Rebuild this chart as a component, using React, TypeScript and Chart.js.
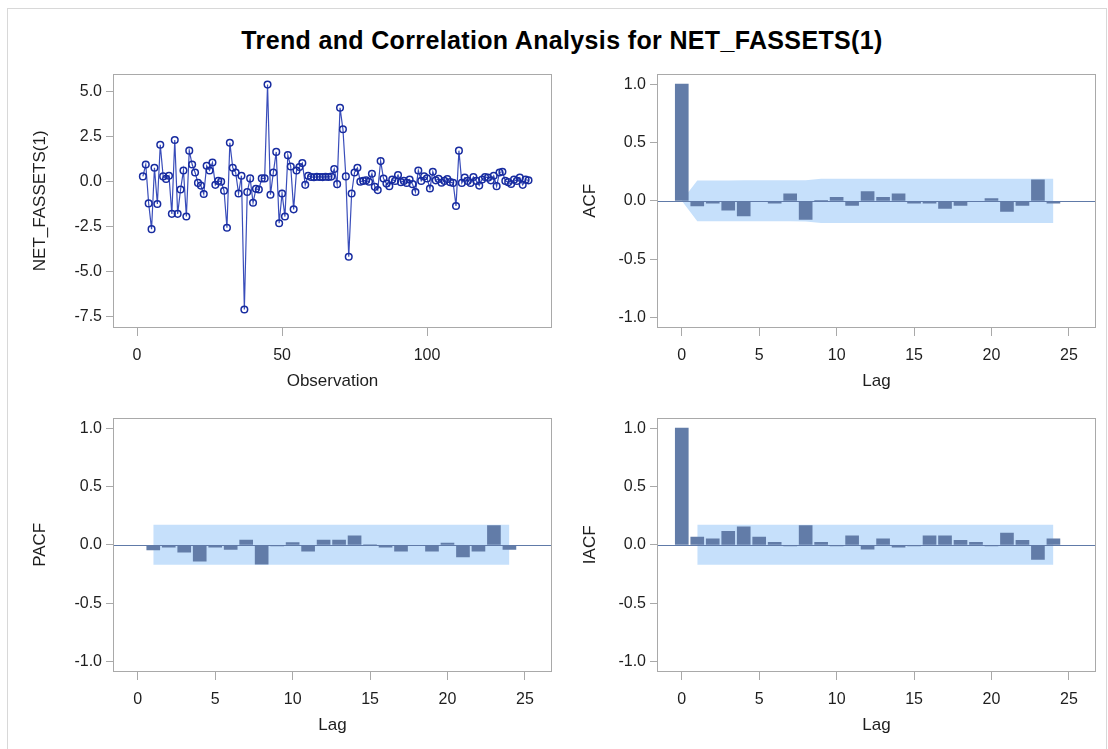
import React, { useEffect, useRef } from "react";
import { Chart, registerables } from "chart.js";

Chart.register(...registerables);

const FONT = "'Liberation Sans', Arial, Helvetica, sans-serif";
Chart.defaults.font.family = FONT;

// ---------------- Data ----------------
const chartTitle = "Trend and Correlation Analysis for NET_FASSETS(1)";
const seriesLabel = "NET_FASSETS(1)";
const firstObservation = 2;
const seriesValues = [
  0.27, 0.93, -1.23, -2.66, 0.75, -1.26, 2.03, 0.27, 0.13, 0.31,
  -1.81, 2.29, -1.81, -0.46, 0.6, -1.96, 1.7, 0.93, 0.49, -0.09,
  -0.24, -0.71, 0.86, 0.6, 1.04, -0.2, 0.02, -0.02, -0.53, -2.58,
  2.14, 0.75, 0.49, -0.68, 0.31, -7.12, -0.6, 0.16, -1.19, -0.42,
  -0.46, 0.16, 0.16, 5.37, -0.75, 0.49, 1.63, -2.33, -0.68, -1.96,
  1.45, 0.82, -1.56, 0.6, 0.79, 1.01, -0.2, 0.31, 0.24, 0.22,
  0.25, 0.24, 0.23, 0.25, 0.24, 0.26, 0.68, -0.16, 4.08, 2.89,
  0.27, -4.19, -0.68, 0.49, 0.75, -0.02, 0.02, 0.05, -0.03, 0.42,
  -0.31, -0.49, 1.12, 0.15, -0.13, -0.27, 0.1, 0.02, 0.35, -0.05,
  0.02, -0.09, 0.1, -0.16, -0.6, 0.6, 0.02, 0.27, 0.16, -0.4,
  0.53, 0.05, 0.13, -0.08, 0.02, 0.12, -0.05, -0.09, -1.37, 1.7,
  -0.09, 0.2, 0.02, -0.1, 0.24, 0.02, -0.24, 0.1, 0.24, 0.2,
  0.05, 0.31, -0.27, 0.49, 0.53, 0.02, -0.05, -0.15, 0.09, 0.02,
  0.2, -0.2, 0.09, 0.05,
];

const lags = [0, 1, 2, 3, 4, 5, 6, 7, 8, 9, 10, 11, 12, 13, 14, 15, 16, 17, 18, 19, 20, 21, 22, 23, 24];
const lagsFromOne = [1, 2, 3, 4, 5, 6, 7, 8, 9, 10, 11, 12, 13, 14, 15, 16, 17, 18, 19, 20, 21, 22, 23, 24];

const acfValues = [
  1.0, -0.043, -0.02, -0.08, -0.13, -0.005, -0.02, 0.06, -0.16, 0.005,
  0.03, -0.04, 0.08, 0.03, 0.06, -0.02, -0.02, -0.066, -0.04, -0.005,
  0.02, -0.09, -0.04, 0.18, -0.02,
];
const acfBandUpper = [
  0, 0.175, 0.175, 0.175, 0.176, 0.176, 0.176, 0.176, 0.177, 0.19,
  0.19, 0.19, 0.19, 0.19, 0.19, 0.19, 0.19, 0.19, 0.19, 0.19,
  0.19, 0.19, 0.19, 0.19, 0.19,
];
const acfBandLower = [
  0, -0.175, -0.175, -0.175, -0.176, -0.176, -0.176, -0.176, -0.177, -0.19,
  -0.19, -0.19, -0.19, -0.19, -0.19, -0.19, -0.19, -0.19, -0.19, -0.19,
  -0.19, -0.19, -0.19, -0.19, -0.19,
];

const pacfValues = [
  -0.043, -0.02, -0.063, -0.14, -0.02, -0.04, 0.04, -0.165, -0.01, 0.02,
  -0.055, 0.04, 0.04, 0.077, 0.0, -0.02, -0.055, -0.005, -0.055, 0.015,
  -0.104, -0.055, 0.165, -0.04,
];
const pacfBandUpper = [
  0.172, 0.172, 0.172, 0.172, 0.172, 0.172, 0.172, 0.172, 0.172, 0.172, 0.172, 0.172,
  0.172, 0.172, 0.172, 0.172, 0.172, 0.172, 0.172, 0.172, 0.172, 0.172, 0.172, 0.172,
];
const pacfBandLower = [
  -0.172, -0.172, -0.172, -0.172, -0.172, -0.172, -0.172, -0.172, -0.172, -0.172, -0.172, -0.172,
  -0.172, -0.172, -0.172, -0.172, -0.172, -0.172, -0.172, -0.172, -0.172, -0.172, -0.172, -0.172,
];

const iacfValues = [
  1.0, 0.066, 0.052, 0.115, 0.154, 0.066, 0.022, -0.01, 0.165, 0.022,
  -0.01, 0.077, -0.038, 0.052, -0.02, -0.01, 0.077, 0.077, 0.038, 0.022,
  -0.01, 0.1, 0.038, -0.126, 0.052,
];

const seriesYTicks = [-7.5, -5.0, -2.5, 0.0, 2.5, 5.0];
const seriesXTicks = [0, 50, 100];
const corrYTicks = [-1.0, -0.5, 0.0, 0.5, 1.0];
const lagTicks = [0, 5, 10, 15, 20, 25];

// ---------------- Styles ----------------
const TEXT = "#1e1e1e";
const FRAME = "#a9a9a9";
const BAR = "rgb(98,124,168)";
const BAND = "rgb(198,224,251)";
const ZERO = "rgb(96,122,168)";
const POINT = "rgb(24,44,160)";
const LINE = "rgba(36,58,178,0.9)";
const tickFont = { family: FONT, size: 16 };
const titleFont = { family: FONT, size: 17 };

const framePlugin = {
  id: "frameAndZero",
  afterDatasetsDraw(chart: any, _args: any, opts: any) {
    const { ctx, chartArea } = chart;
    const { left, right, top, bottom } = chartArea;
    ctx.save();
    if (opts && opts.zero) {
      const y = Math.round(chart.scales.y.getPixelForValue(0)) + 0.5;
      ctx.strokeStyle = ZERO;
      ctx.lineWidth = 1;
      ctx.beginPath();
      ctx.moveTo(left, y);
      ctx.lineTo(right, y);
      ctx.stroke();
    }
    ctx.strokeStyle = FRAME;
    ctx.lineWidth = 1;
    ctx.strokeRect(Math.round(left) + 0.5, Math.round(top) + 0.5, Math.round(right - left) - 1, Math.round(bottom - top) - 1);
    ctx.restore();
  },
};

function yAxis(min: number, max: number, ticks: number[], title: string, width: number) {
  return {
    type: "linear",
    min,
    max,
    afterBuildTicks: (s: any) => {
      s.ticks = ticks.map((v) => ({ value: v }));
    },
    afterFit: (s: any) => {
      s.width = width;
    },
    ticks: {
      font: tickFont,
      color: TEXT,
      padding: 4,
      callback: (v: any) => Number(v).toFixed(1),
    },
    grid: { drawOnChartArea: false, drawTicks: true, tickLength: 7, color: FRAME, offset: false },
    border: { display: false },
    title: { display: true, text: title, font: titleFont, color: TEXT, padding: { top: 3, bottom: 4 } },
  };
}

function xAxis(min: number, max: number, ticks: number[], title: string, height: number) {
  return {
    type: "linear",
    min,
    max,
    offset: false,
    afterBuildTicks: (s: any) => {
      s.ticks = ticks.map((v) => ({ value: v }));
    },
    afterFit: (s: any) => {
      s.height = height;
    },
    ticks: {
      font: tickFont,
      color: TEXT,
      padding: 10,
      maxRotation: 0,
      callback: (v: any) => String(v),
    },
    grid: { drawOnChartArea: false, drawTicks: true, tickLength: 8, color: FRAME, offset: false },
    border: { display: false },
    title: { display: true, text: title, font: titleFont, color: TEXT, padding: { top: 4, bottom: 3 } },
  };
}

function seriesConfig(): any {
  return {
    type: "line",
    data: {
      datasets: [
        {
          data: seriesValues.map((v, i) => ({ x: firstObservation + i, y: v })),
          borderColor: LINE,
          borderWidth: 1.2,
          pointRadius: 3.3,
          pointBorderWidth: 1.5,
          pointBorderColor: POINT,
          pointBackgroundColor: "rgba(255,255,255,0)",
          tension: 0,
        },
      ],
    },
    options: {
      responsive: false,
      animation: false,
      layout: { padding: { top: 11, right: 8, left: 0, bottom: 0 } },
      plugins: { legend: { display: false }, tooltip: { enabled: false }, frameAndZero: { zero: false } },
      scales: {
        x: xAxis(-8.3, 143.1, seriesXTicks, "Observation", 67),
        y: yAxis(-8.15, 5.98, seriesYTicks, seriesLabel, 86),
      },
    },
    plugins: [framePlugin],
  };
}

function corrConfig(
  title: string,
  barLags: number[],
  barValues: number[],
  bandLags: number[],
  bandUpper: number[],
  bandLower: number[],
  yWidth: number
): any {
  return {
    type: "bar",
    data: {
      datasets: [
        {
          type: "line",
          data: bandLags.map((l, i) => ({ x: l, y: bandUpper[i] })),
          borderWidth: 0,
          borderColor: "rgba(0,0,0,0)",
          pointRadius: 0,
          backgroundColor: BAND,
          fill: "+1",
          order: 3,
        },
        {
          type: "line",
          data: bandLags.map((l, i) => ({ x: l, y: bandLower[i] })),
          borderWidth: 0,
          borderColor: "rgba(0,0,0,0)",
          pointRadius: 0,
          fill: false,
          order: 3,
        },
        {
          type: "bar",
          data: barLags.map((l, i) => ({ x: l, y: barValues[i] })),
          backgroundColor: BAR,
          borderWidth: 0,
          barThickness: 13,
          order: 1,
        },
      ],
    },
    options: {
      responsive: false,
      animation: false,
      layout: { padding: { top: 11, right: 8, left: 0, bottom: 0 } },
      plugins: { legend: { display: false }, tooltip: { enabled: false }, frameAndZero: { zero: true } },
      scales: {
        x: xAxis(-1.6, 26.75, lagTicks, "Lag", 67),
        y: yAxis(-1.09, 1.09, corrYTicks, title, yWidth),
      },
    },
    plugins: [framePlugin],
  };
}

function Panel(props: { left: number; top: number; width: number; height: number; make: () => any }) {
  const ref = useRef<HTMLCanvasElement>(null);
  useEffect(() => {
    const chart = new Chart(ref.current as HTMLCanvasElement, props.make());
    return () => chart.destroy();
  }, []);
  return (
    <canvas
      ref={ref}
      width={props.width}
      height={props.height}
      style={{ position: "absolute", left: props.left, top: props.top, width: props.width, height: props.height }}
    />
  );
}

export default function App() {
  return (
    <div style={{ position: "absolute", left: 0, top: 0, width: 1108, height: 749, background: "#fff", overflow: "hidden" }}>
      <div
        style={{
          position: "absolute",
          left: 7,
          top: 8,
          width: 1100,
          height: 745,
          border: "1px solid #d8d8d8",
          boxSizing: "border-box",
        }}
      />
      <div
        style={{
          position: "absolute",
          left: 0,
          top: 26,
          width: 1124,
          textAlign: "center",
          fontFamily: FONT,
          fontWeight: "bold",
          fontSize: 25,
          letterSpacing: "0.35px",
          color: "#000",
          lineHeight: "28px",
        }}
      >
        {chartTitle}
      </div>
      <Panel left={27} top={60} width={533} height={335} make={seriesConfig} />
      <Panel
        left={577}
        top={60}
        width={527}
        height={335}
        make={() => corrConfig("ACF", lags, acfValues, lags, acfBandUpper, acfBandLower, 80)}
      />
      <Panel
        left={27}
        top={404}
        width={533}
        height={335}
        make={() => corrConfig("PACF", lagsFromOne, pacfValues, lagsFromOne, pacfBandUpper, pacfBandLower, 86)}
      />
      <Panel
        left={577}
        top={404}
        width={527}
        height={335}
        make={() => corrConfig("IACF", lags, iacfValues, lagsFromOne, pacfBandUpper, pacfBandLower, 80)}
      />
    </div>
  );
}
